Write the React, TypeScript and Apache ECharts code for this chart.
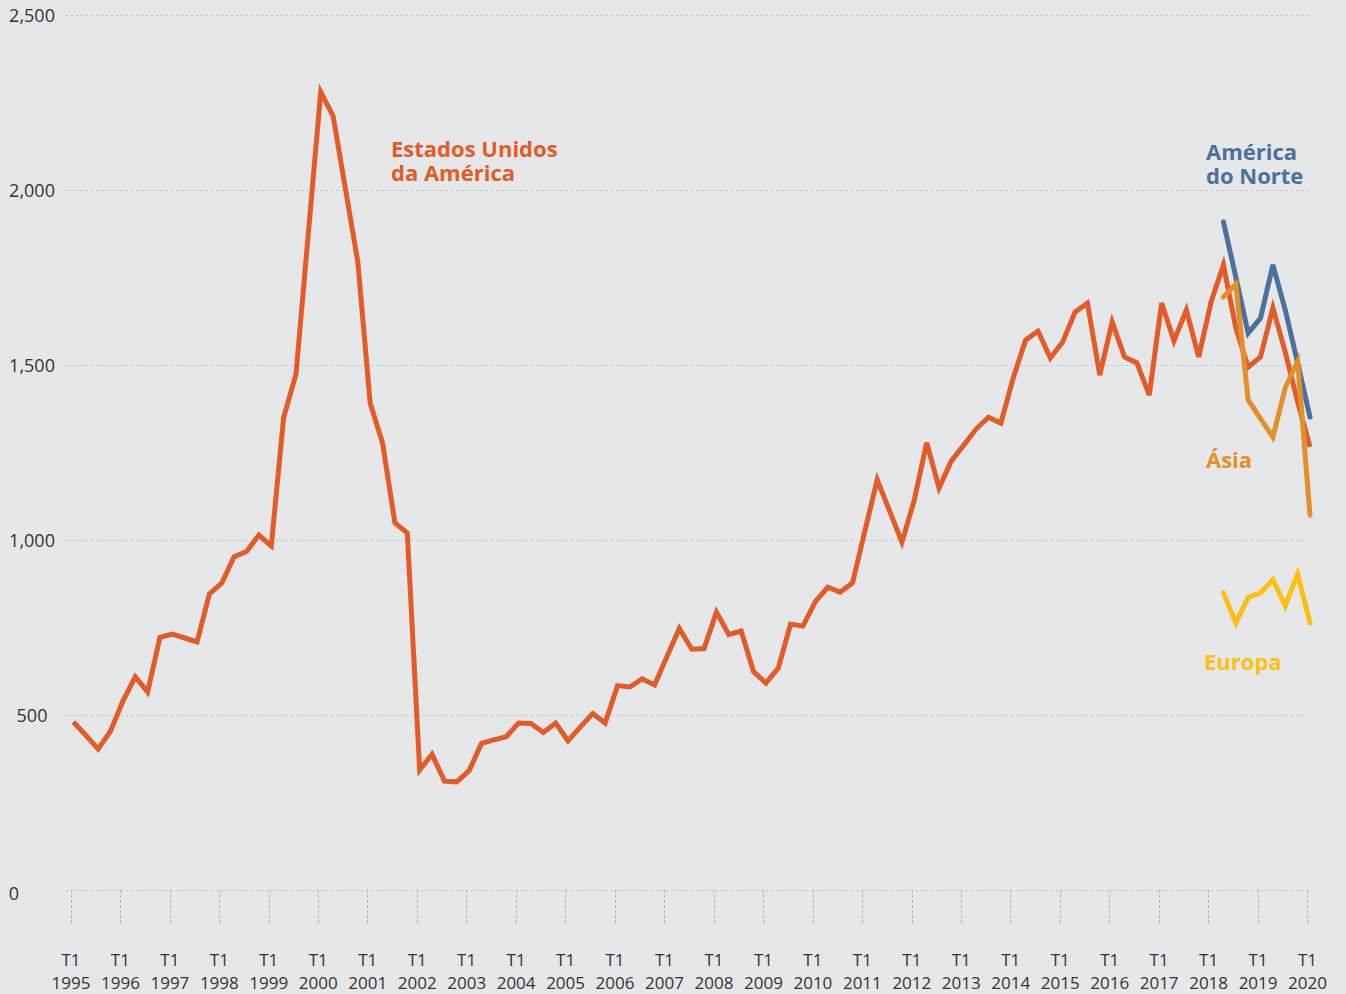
import React, { useEffect, useRef } from "react";
import * as echarts from "echarts";

// Quarterly values, T1 1995 ... T1 2020 (101 quarters)
const usValues = [
  480, 442, 403, 454, 540, 609, 566, 722, 731, 720, 709, 846, 877, 952, 967, 1014,
  983, 1350, 1474, 1877, 2280, 2211, 2003, 1794, 1391, 1277, 1049, 1020, 343, 388,
  311, 309, 341, 419, 429, 438, 477, 476, 450, 477, 426, 466, 504, 477, 584, 580,
  603, 586, 667, 747, 688, 690, 794, 730, 740, 624, 591, 634, 760, 754, 824, 865,
  851, 877, 1025, 1172, 1083, 994, 1114, 1278, 1149, 1226, 1271, 1317, 1351, 1334,
  1463, 1571, 1597, 1520, 1566, 1651, 1677, 1471, 1623, 1523, 1506, 1414, 1677, 1569,
  1657, 1523, 1680, 1786, 1606, 1494, 1523, 1663, 1537, 1395, 1266,
];
// Regional series start at quarter index 93 (T2 2018)
const regionStart = 93;
const northAmericaValues = [1909, 1751, 1591, 1634, 1786, 1657, 1506, 1351];
const asiaValues = [1694, 1731, 1400, 1347, 1294, 1435, 1510, 1071];
const europeValues = [849, 763, 836, 849, 887, 812, 903, 763];

const yearLabels = [
  "1995", "1996", "1997", "1998", "1999", "2000", "2001", "2002", "2003",
  "2004", "2005", "2006", "2007", "2008", "2009", "2010", "2011", "2012",
  "2013", "2014", "2015", "2016", "2017", "2018", "2019", "2020",
];
const quarterLabel = "T1";
const yTicks = [0, 500, 1000, 1500, 2000, 2500];

const colors = {
  us: "#e35b26",
  na: "#4b719d",
  asia: "#e4902a",
  europe: "#fcc010",
};

const fmt = (v: number) => String(v).replace(/\B(?=(\d{3})+(?!\d))/g, ",");

export default function App() {
  const ref = useRef<HTMLDivElement>(null);
  useEffect(() => {
    if (!ref.current) return;
    const chart = echarts.init(ref.current, null, { renderer: "svg" });
    const tickVals = yearLabels.map((_, k) => k * 4 - 0.2);
    const font = '"Open Sans", "Noto Sans", sans-serif';
    const line = (name: string, color: string, data: number[][], cap: string) => ({
      name,
      type: "line",
      data,
      symbol: "none",
      silent: true,
      lineStyle: { color, width: 5, cap, join: "miter" },
    });
    const label = (text: string, x: number, y: number, fill: string) => ({
      type: "text",
      x,
      y,
      style: {
        text,
        fill,
        fontSize: 22,
        fontWeight: "bold",
        fontFamily: font,
        verticalAlign: "middle",
      },
    });
    const option: any = {
      animation: false,
      backgroundColor: "#e6e7e8",
      grid: { left: 66, right: 36, top: 15, bottom: 104, containLabel: false },
      xAxis: {
        type: "value",
        min: -0.6,
        max: 100,
        offset: 7,
        axisLine: { show: false },
        splitLine: { show: false },
        axisTick: {
          show: true,
          length: 35,
          customValues: tickVals,
          lineStyle: { color: "#b3b3b3", width: 1, type: [3, 2] },
        },
        axisLabel: {
          customValues: tickVals,
          margin: 51,
          fontSize: 17,
          lineHeight: 23,
          color: "#333",
          fontFamily: font,
          formatter: (v: number) => quarterLabel + "\n" + yearLabels[Math.round(v / 4)],
        },
      },
      yAxis: {
        type: "value",
        min: yTicks[0],
        max: yTicks[yTicks.length - 1],
        interval: 500,
        axisLine: { show: false },
        axisTick: { show: false },
        splitLine: { lineStyle: { color: "#c0c0c0", width: 1, type: [2, 3] } },
        axisLabel: {
          margin: 34,
          align: "center",
          fontSize: 18,
          color: "#333",
          fontFamily: font,
          formatter: (v: number) => (v === 0 ? "{z|0}" : fmt(v)),
          rich: { z: { padding: [6, 36, 0, 0], fontSize: 18, color: "#333", fontFamily: font } },
        },
      },
      series: [
        line("Estados Unidos da América", colors.us, usValues.map((v, i) => [i, v]), "butt"),
        line("América do Norte", colors.na, northAmericaValues.map((v, k) => [regionStart + k, v]), "round"),
        line("Ásia", colors.asia, asiaValues.map((v, k) => [regionStart + k, v]), "round"),
        line("Europa", colors.europe, europeValues.map((v, k) => [regionStart + k, v]), "round"),
      ],
      graphic: [
        label("Estados Unidos", 391, 148, colors.us),
        label("da América", 391, 172, colors.us),
        label("América", 1206, 151, colors.na),
        label("do Norte", 1206, 175, colors.na),
        label("Ásia", 1206, 459, colors.asia),
        label("Europa", 1204, 661, colors.europe),
      ],
    };
    chart.setOption(option);
    return () => chart.dispose();
  }, []);
  return (
    <div
      ref={ref}
      style={{ position: "fixed", left: 0, top: 0, width: 1346, height: 994, background: "#e6e7e8" }}
    />
  );
}
